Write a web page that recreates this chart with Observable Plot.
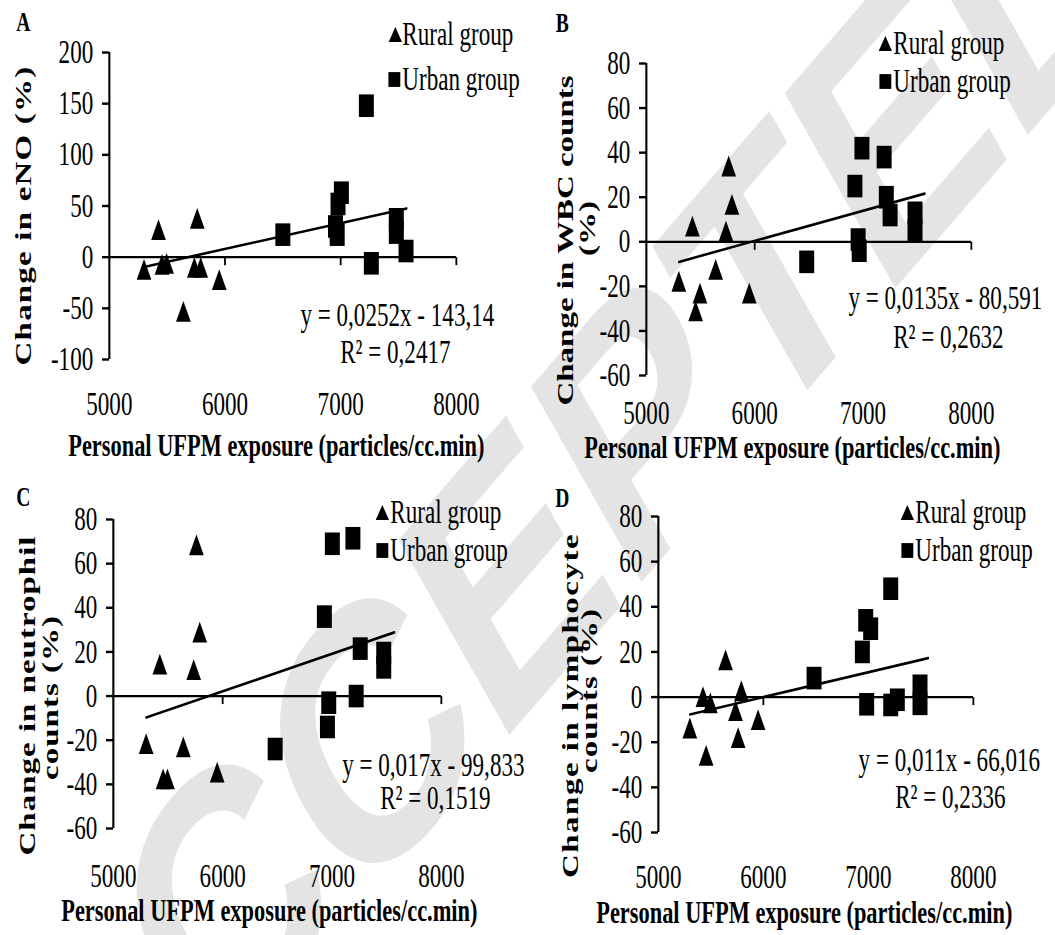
<!DOCTYPE html>
<html><head><meta charset="utf-8">
<script src="https://cdn.jsdelivr.net/npm/d3@7"></script>
<script src="https://cdn.jsdelivr.net/npm/@observablehq/plot@0.6"></script>
<style>
html,body{margin:0;padding:0;background:#fff;}
#fig{position:relative;width:1055px;height:935px;overflow:hidden;background:#fff;}
#fig svg{position:absolute;}
</style></head><body><div id="fig"></div>
<script>
// ---------- data ----------
const xTicks = [5000, 6000, 7000, 8000];
const yTicksA = [-100, -50, 0, 50, 100, 150, 200];
const yTicksBCD = [-60, -40, -20, 0, 20, 40, 60, 80];
const legendLabels = ["Rural group", "Urban group"];
const xTitle = "Personal UFPM exposure (particles/cc.min)";
const panelLetters = ["A", "B", "C", "D"];

// rural subjects: exposure
const ruralX = [5300, 5425, 5455, 5495, 5640, 5735, 5760, 5790, 5950];
const ruralA = [-12, 27, -7, -6, -53, -10, 38, -10, -22];
const ruralB = [-17.7, 7, -31, -23, -12.4, 4.8, 34, 16.8, -23];
const ruralC = [-21.5, 14.5, -37.5, -37.5, -23, 12, 68.5, 29, -34.5];
const ruralD = [-13.7, 0.2, -25.8, -2.6, 16.5, -6, -18, 2.8, -10];

// urban subjects
const urbanXA = [6500, 6955, 6970, 6977, 7006, 7222, 7265, 7481, 7481, 7565];
const urbanA  = [22, 30, 22, 52, 63, 148, -6, 37, 24, 6];
const urbanXB = [6480, 6925, 6955, 6965, 6990, 7195, 7215, 7250, 7480, 7480];
const urbanB  = [-9, 25, 1, -4, 42, 38, 20, 12, 13, 5];
const urbanXC = [6480, 6930, 6958, 6970, 7003, 7191, 7221, 7258, 7473, 7473];
const urbanC  = [-24, 36, -14, -3, 69, 71.5, 0, 21.5, 19.5, 13];
const urbanXD = [6483, 6943, 6975, 6984, 7022, 7213, 7213, 7276, 7492, 7492];
const urbanD  = [8.4, 20, 34, -3.2, 30.3, 48, -3.5, -1.2, 5, -3];

// linear trend lines (as printed on the chart)
const trendX = [5300, 7570];
const slopes = [0.0252, 0.0135, 0.017, 0.011];
const intercepts = [-143.14, -80.591, -99.833, -66.016];
const eqTexts = ["y = 0,0252x - 143,14", "y = 0,0135x - 80,591", "y = 0,017x - 99,833", "y = 0,011x - 66,016"];
const r2Texts = ["R² = 0,2417", "R² = 0,2632", "R² = 0,1519", "R² = 0,2336"];
const yTitles = [["Change in eNO (%)"], ["Change in WBC counts", "(%)"], ["Change in neutrophil", "counts (%)"], ["Change in lymphocyte", "counts (%)"]];
const watermark = "ACCEPTED";

// ---------- layout ----------
const S = 0.7, PW = 527, PH = 467;
const FONT = "Liberation Serif, Times New Roman, serif";

function shape(hw, hh, kind) {
  return {draw(ctx) {
    if (kind === "tri") { ctx.moveTo(0, -hh); ctx.lineTo(hw, hh); ctx.lineTo(-hw, hh); ctx.closePath(); }
    else if (kind === "sq") { ctx.rect(-hw, -hh, 2 * hw, 2 * hh); }
    else { ctx.moveTo(0, 0); ctx.lineTo(0, hh); }
  }};
}
const triSym = shape(10.5, 10.4, "tri");
const sqSym = shape(10.7, 11.3, "sq");
const triLeg = shape(9.5, 7.5, "tri");
const sqLeg = shape(8.5, 7.4, "sq");
const tickDown = shape(0, 8, "tick");

const layouts = [
  {ox: 0, oy: 0, axisX: 109, x8000: 456, yTop: 52, yBot: 359, yDomain: [-100, 200], yTicks: yTicksA, xLab: 403,
   xT: [276, 445], yT: [[23, 215]], ls: [1.2], let: [23, 22], leg: [[395, 34], [394, 79]], legX: 402, eq: [397, 315], r2: [395, 352]},
  {ox: 527, oy: 0, axisX: 646, x8000: 971, yTop: 63, yBot: 375, yDomain: [-60, 80], yTicks: yTicksBCD, xLab: 412,
   xT: [792, 447], yT: [[565, 240], [587, 228]], ls: [0, 0], let: [562, 23], leg: [[885, 43], [885, 81]], legX: 893, eq: [945, 298], r2: [948, 337]},
  {ox: 0, oy: 467, axisX: 113, x8000: 441, yTop: 519, yBot: 828, yDomain: [-60, 80], yTicks: yTicksBCD, xLab: 875,
   xT: [269, 910], yT: [[27, 695], [50, 697]], ls: [1, 1], let: [23, 497], leg: [[382, 512], [382, 550]], legX: 390, eq: [433, 765], r2: [435, 798]},
  {ox: 527, oy: 467, axisX: 658, x8000: 973, yTop: 516, yBot: 832, yDomain: [-60, 80], yTicks: yTicksBCD, xLab: 876,
   xT: [804, 912], yT: [[570, 705], [589, 690]], ls: [1.5, 1], let: [562, 498], leg: [[907, 512], [907, 550]], legX: 915, eq: [949, 760], r2: [950, 797]}
];
const series = [
  [ruralA, urbanXA, urbanA], [ruralB, urbanXB, urbanB], [ruralC, urbanXC, urbanC], [ruralD, urbanXD, urbanD]
];

const fig = document.getElementById("fig");

function squash(svg, left, top, W, H) {
  svg.setAttribute("width", W); svg.setAttribute("height", H);
  svg.setAttribute("preserveAspectRatio", "none");
  svg.style.width = W + "px"; svg.style.height = H + "px"; svg.style.maxWidth = "none";
  svg.style.left = left + "px"; svg.style.top = top + "px";
}

// watermark (background)
{
  const Wv = 1055 / S;
  const svg = Plot.plot({
    width: Wv, height: 935, margin: 0,
    style: {background: "transparent", overflow: "visible"},
    marks: [
      Plot.text([watermark], {text: d => d, frameAnchor: "top-left", dx: 560 / S, dy: 525, rotate: -39,
        textAnchor: "middle", lineAnchor: "middle",
        fontSize: 365, fontWeight: "bold", fontFamily: "Liberation Sans, Arial, sans-serif", fill: "#e4e4e4"})
    ]
  });
  squash(svg, 0, 0, 1055, 935);
  fig.appendChild(svg);
}

layouts.forEach((p, k) => {
  const [rY, uX, uY] = series[k];
  const Wv = PW / S;
  const mL = (p.axisX - p.ox) / S;
  const mR = Wv - (p.x8000 - p.ox) / S;
  const mT = p.yTop - p.oy;
  const mB = PH - (p.yBot - p.oy);
  const at = (xy) => ({frameAnchor: "top-left", dx: (xy[0] - p.ox) / S - mL, dy: (xy[1] - p.oy) - mT});
  const rural = rY.map((y, i) => ({x: ruralX[i], y}));
  const urban = uY.map((y, i) => ({x: uX[i], y}));
  const trend = trendX.map(x => ({x, y: slopes[k] * x + intercepts[k]}));
  const txt = (s, xy, o = {}) => Plot.text([s], {text: d => d, ...at(xy), fontFamily: FONT, fill: "black", ...o});
  const marks = [
    Plot.ruleY([0], {strokeWidth: 2.2}),
    Plot.ruleX([5000], {strokeWidth: 3}),
    Plot.dot(xTicks.slice(1), {x: d => d, y: () => 0, symbol: tickDown, stroke: "black", fill: "none", strokeWidth: 2.6}),
    Plot.axisY({ticks: p.yTicks, tickSize: 10, tickPadding: 13, tickFormat: String, fontSize: 33, label: null, strokeWidth: 2.4}),
    Plot.axisX({ticks: xTicks, tickSize: 0, tickPadding: p.xLab - p.yBot - 12.3, tickFormat: String, fontSize: 33, label: null}),
    Plot.line(trend, {x: "x", y: "y", stroke: "black", strokeWidth: 2.6}),
    Plot.dot(rural, {x: "x", y: "y", symbol: triSym, fill: "black", r: 8}),
    Plot.dot(urban, {x: "x", y: "y", symbol: sqSym, fill: "black", r: 8}),
    Plot.dot([0], {...at(p.leg[0]), symbol: triLeg, fill: "black", r: 6}),
    Plot.dot([0], {...at(p.leg[1]), symbol: sqLeg, fill: "black", r: 6}),
    txt(legendLabels[0], [p.legX, p.leg[0][1]], {textAnchor: "start", lineAnchor: "middle", fontSize: 33}),
    txt(legendLabels[1], [p.legX, p.leg[1][1]], {textAnchor: "start", lineAnchor: "middle", fontSize: 33}),
    txt(eqTexts[k], p.eq, {textAnchor: "middle", lineAnchor: "middle", fontSize: 33}),
    txt(r2Texts[k], p.r2, {textAnchor: "middle", lineAnchor: "middle", fontSize: 33}),
    txt(xTitle, p.xT, {textAnchor: "middle", lineAnchor: "middle", fontSize: 32, fontWeight: "bold"}),
    txt(panelLetters[k], p.let, {textAnchor: "middle", lineAnchor: "middle", fontSize: 28, fontWeight: "bold"}),
    ...yTitles[k].map((s, j) => txt(s, p.yT[j], {textAnchor: "middle", lineAnchor: "middle", fontSize: 33, fontWeight: "bold", rotate: -90}))
  ];
  const svg = Plot.plot({
    width: Wv, height: PH, marginLeft: mL, marginRight: mR, marginTop: mT, marginBottom: mB,
    x: {domain: [5000, 8000]}, y: {domain: p.yDomain},
    style: {background: "transparent", overflow: "visible", fontFamily: FONT, fontSize: "33px", color: "black"},
    marks
  });
  svg.querySelectorAll("text").forEach(t => {
    const j = yTitles[k].indexOf(t.textContent);
    if (j >= 0) t.style.letterSpacing = p.ls[j] + "px";
  });
  squash(svg, p.ox, p.oy, PW, PH);
  fig.appendChild(svg);
});
</script></body></html>
